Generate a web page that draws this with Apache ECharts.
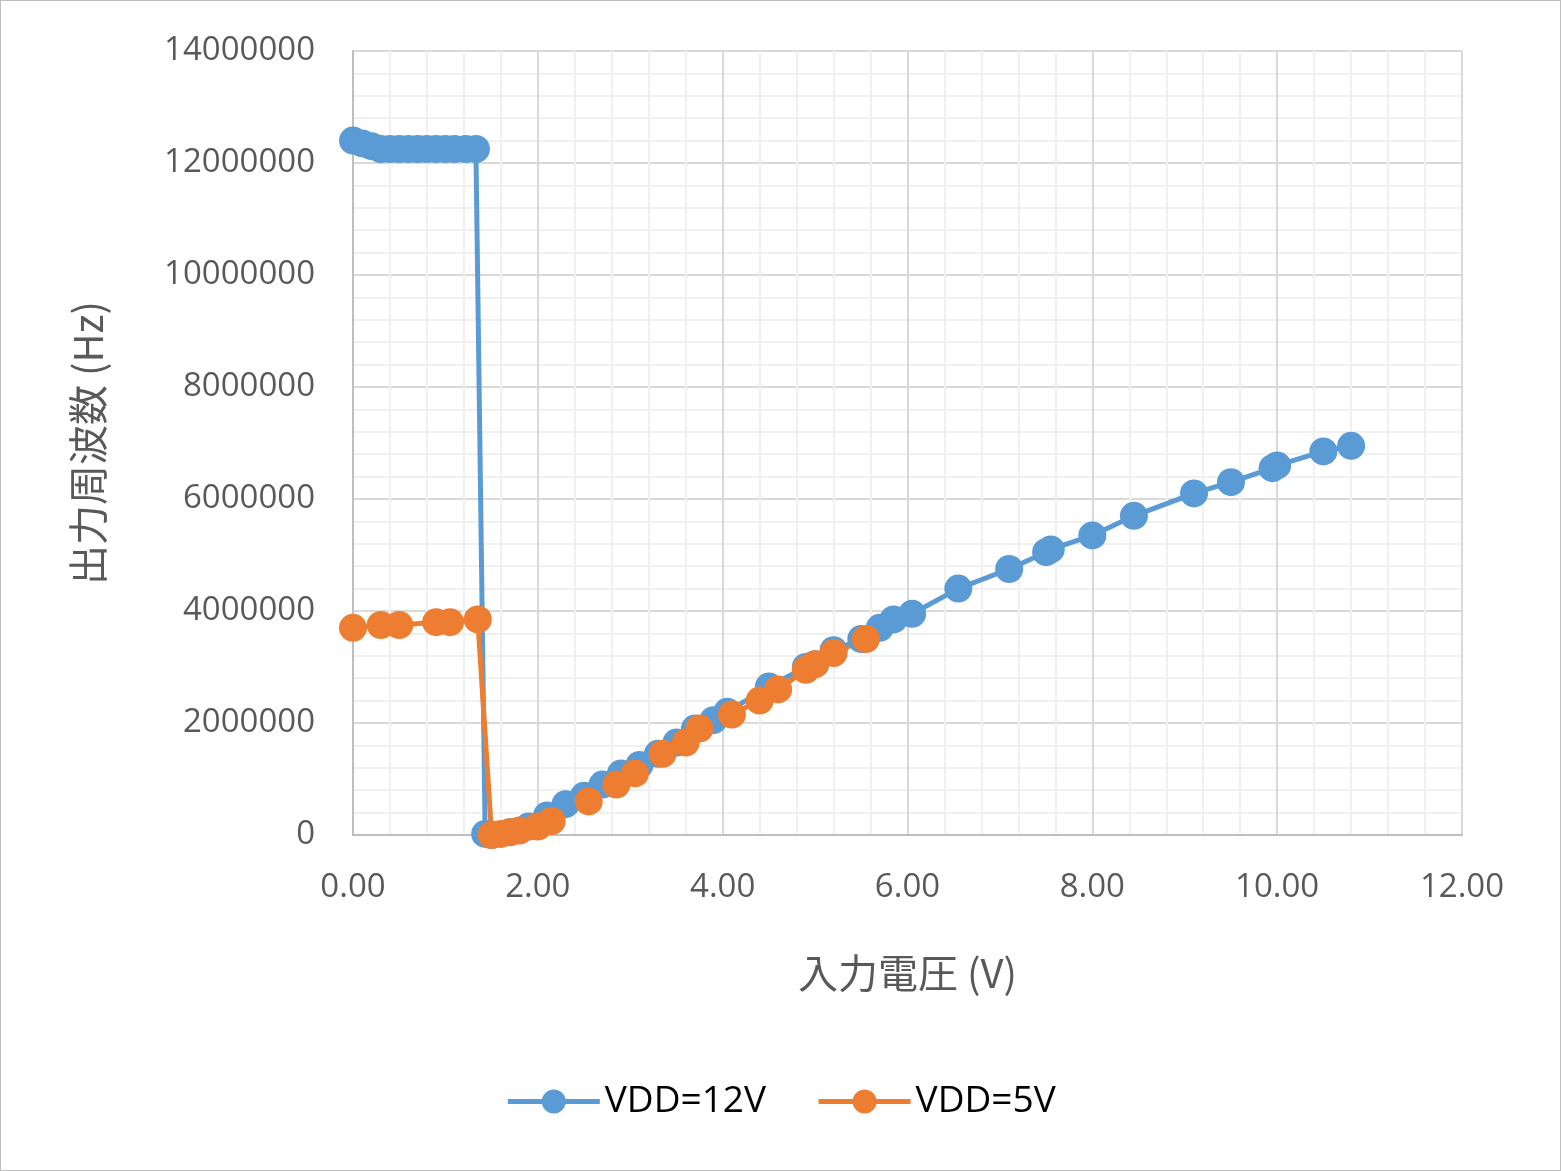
<!DOCTYPE html>
<html>
<head>
<meta charset="UTF-8">
<title>chart</title>
<style>html,body{margin:0;background:#fff}#main{width:1559px;height:1169px;border:1px solid #bfbfbf}</style>
</head>
<body>
<div id="main"></div>
<script src="https://cdn.jsdelivr.net/npm/echarts@6/dist/echarts.min.js"></script>
<script>
var vdd12X = [0.0,0.1,0.2,0.3,0.4,0.5,0.6,0.7,0.8,0.9,1.0,1.1,1.22,1.33,1.43,1.5,1.7,1.9,2.1,2.3,2.5,2.7,2.9,3.1,3.3,3.5,3.7,3.9,4.05,4.5,4.9,5.0,5.2,5.5,5.7,5.85,6.05,6.55,7.1,7.5,7.55,8.0,8.45,9.1,9.5,9.95,10.0,10.5,10.8];
var vdd12Y = [12400000,12350000,12300000,12250000,12250000,12250000,12250000,12250000,12250000,12250000,12250000,12250000,12250000,12250000,20000,0,50000,150000,350000,550000,700000,900000,1100000,1250000,1450000,1650000,1900000,2050000,2200000,2650000,3000000,3050000,3300000,3500000,3700000,3850000,3950000,4400000,4750000,5050000,5100000,5350000,5700000,6100000,6300000,6550000,6600000,6850000,6950000];
var vdd5X = [0.0,0.3,0.5,0.9,1.05,1.35,1.5,1.6,1.7,1.8,2.0,2.15,2.55,2.85,3.05,3.35,3.6,3.75,4.1,4.4,4.6,4.9,5.0,5.2,5.55];
var vdd5Y = [3700000,3750000,3750000,3800000,3800000,3850000,0,20000,50000,80000,150000,250000,600000,900000,1100000,1450000,1650000,1900000,2150000,2400000,2600000,2950000,3050000,3250000,3500000];
var seriesNames = ['VDD=12V', 'VDD=5V'];

function pairs(xs, ys) {
    var d = [];
    for (var i = 0; i < xs.length; i++) d.push([xs[i], ys[i]]);
    return d;
}

var myChart = echarts.init(document.getElementById('main'));
var axisText = {color: '#595959', fontSize: 33, fontFamily: 'Open Sans'};
var option = {
    color: ['#5b9bd5', '#ed7d31'],
    grid: {left: 352, right: 98, top: 50, bottom: 335},
    legend: {
        bottom: 45, left: 'center', itemWidth: 92, itemHeight: 30, itemGap: 50,
        lineStyle: {width: 5},
        textStyle: {fontSize: 37, color: '#000', fontFamily: 'Open Sans'}
    },
    xAxis: {
        type: 'value', min: 0, max: 12, interval: 2,
        name: '入力電圧 (V)', nameLocation: 'middle', nameGap: 118,
        nameTextStyle: {fontSize: 40, color: '#595959', fontFamily: 'Noto Sans CJK JP'},
        axisLabel: Object.assign({formatter: function (v) { return v.toFixed(2); }, margin: 36}, axisText),
        axisLine: {lineStyle: {color: '#bfbfbf', width: 2}},
        axisTick: {show: false},
        splitLine: {lineStyle: {color: '#d9d9d9', width: 2}},
        minorTick: {show: false, splitNumber: 5},
        minorSplitLine: {show: true, lineStyle: {color: '#f0f0f0', width: 2}}
    },
    yAxis: {
        type: 'value', min: 0, max: 14000000, interval: 2000000,
        name: '出力周波数 (Hz)', nameLocation: 'middle', nameGap: 245,
        nameTextStyle: {fontSize: 40, color: '#595959', fontFamily: 'Noto Sans CJK JP'},
        axisLabel: Object.assign({margin: 38, formatter: function (v) { return String(v); }}, axisText),
        axisLine: {show: true, lineStyle: {color: '#bfbfbf', width: 2}},
        axisTick: {show: false},
        splitLine: {lineStyle: {color: '#d9d9d9', width: 2}},
        minorTick: {show: false, splitNumber: 5},
        minorSplitLine: {show: true, lineStyle: {color: '#f0f0f0', width: 2}}
    },
    series: [
        {name: seriesNames[0], type: 'line', data: pairs(vdd12X, vdd12Y), symbol: 'circle', symbolSize: 28, lineStyle: {width: 5}},
        {name: seriesNames[1], type: 'line', data: pairs(vdd5X, vdd5Y), symbol: 'circle', symbolSize: 28, lineStyle: {width: 5}}
    ]
};
myChart.setOption(option);
</script>
</body>
</html>
